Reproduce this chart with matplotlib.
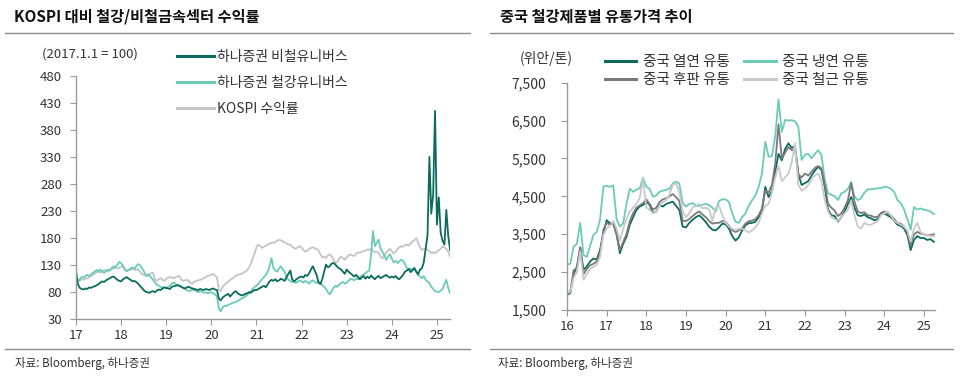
import numpy as np
import matplotlib
matplotlib.use("Agg")
import matplotlib.pyplot as plt
from matplotlib.lines import Line2D
from matplotlib.ticker import FuncFormatter

plt.rcParams['font.family'] = ['Noto Sans CJK KR', 'DejaVu Sans']

# ---------------- Left chart data (semi-monthly, 2017.0 ~ 2025.29) ----------------
kospi = (
    [100, 102, 101, 104, 103, 106, 105, 108, 110, 112, 114, 117, 118, 116, 119, 121, 120, 118, 122, 124, 123, 126, 124, 125]
    + [127, 129, 121, 119, 122, 121, 123, 122, 121, 123, 118, 114, 112, 110, 113, 114, 115, 116, 104, 101, 104, 106, 103, 101]
    + [105, 107, 108, 107, 106, 108, 109, 110, 104, 101, 102, 103, 101, 97, 96, 99, 101, 102, 103, 104, 106, 108, 110, 111]
    + [112, 114, 110, 107, 85, 82, 90, 94, 97, 99, 103, 105, 107, 110, 112, 113, 114, 116, 118, 120, 126, 132, 142, 152]
    + [163, 168, 165, 162, 164, 166, 168, 170, 171, 172, 172, 175, 177, 176, 174, 172, 170, 168, 168, 164, 162, 160, 163, 165]
    + [162, 158, 155, 157, 160, 162, 163, 161, 160, 157, 150, 144, 146, 143, 148, 150, 146, 140, 134, 136, 142, 146, 143, 140]
    + [144, 148, 150, 148, 147, 151, 154, 153, 155, 156, 157, 159, 158, 160, 156, 154, 155, 152, 146, 142, 148, 153, 157, 160]
    + [156, 152, 155, 160, 163, 165, 164, 167, 168, 166, 170, 174, 176, 180, 172, 163, 158, 160, 161, 158, 156, 152, 154, 152]
    + [155, 158, 160, 165, 163, 160, 155, 146]
)
nonferrous = (
    [120, 95, 88, 86, 85, 87, 86, 89, 88, 90, 91, 93, 95, 98, 100, 99, 102, 104, 106, 108, 109, 106, 103, 101]
    + [100, 104, 106, 108, 105, 103, 100, 101, 99, 96, 92, 88, 84, 81, 80, 79, 81, 82, 80, 83, 85, 84, 87, 89]
    + [88, 87, 86, 90, 91, 92, 93, 92, 90, 88, 87, 89, 90, 88, 87, 86, 85, 84, 86, 85, 84, 86, 85, 84]
    + [86, 87, 85, 84, 68, 65, 70, 73, 75, 77, 72, 76, 80, 82, 78, 76, 74, 75, 77, 78, 80, 79, 82, 84]
    + [84, 86, 88, 90, 92, 89, 95, 100, 103, 101, 104, 100, 102, 105, 103, 101, 108, 114, 120, 104, 100, 103, 106, 108]
    + [109, 107, 112, 110, 115, 122, 128, 120, 112, 98, 95, 104, 118, 131, 126, 128, 133, 134, 131, 127, 124, 122, 118, 114]
    + [122, 118, 115, 112, 109, 112, 108, 104, 107, 110, 105, 109, 106, 111, 107, 104, 108, 110, 106, 108, 110, 112, 109, 107]
    + [109, 107, 110, 106, 104, 108, 112, 118, 120, 123, 117, 121, 125, 118, 113, 122, 124, 135, 160, 185, 330, 225, 260, 415]
    + [205, 255, 190, 175, 168, 232, 185, 158]
)
steel = (
    [97, 100, 104, 108, 107, 110, 112, 110, 113, 116, 118, 121, 119, 122, 118, 116, 119, 122, 120, 125, 128, 126, 131, 136]
    + [134, 128, 122, 119, 121, 124, 126, 123, 128, 132, 130, 125, 119, 113, 110, 112, 107, 103, 98, 94, 92, 90, 88, 89]
    + [87, 90, 92, 96, 98, 95, 93, 92, 90, 88, 86, 84, 82, 83, 85, 84, 82, 80, 82, 81, 79, 80, 78, 79]
    + [80, 78, 76, 72, 50, 45, 52, 55, 54, 57, 58, 60, 61, 62, 64, 66, 68, 70, 72, 75, 78, 82, 86, 90]
    + [92, 96, 100, 104, 108, 112, 118, 128, 143, 125, 120, 118, 124, 128, 122, 118, 108, 103, 101, 98, 100, 97, 99, 102]
    + [100, 98, 101, 99, 96, 100, 102, 99, 97, 100, 98, 93, 90, 86, 80, 76, 82, 88, 92, 90, 94, 97, 99, 96]
    + [98, 101, 105, 104, 102, 105, 104, 108, 110, 113, 115, 118, 120, 150, 193, 165, 172, 177, 160, 155, 148, 140, 146, 150]
    + [142, 135, 138, 134, 137, 140, 138, 132, 125, 122, 124, 120, 122, 118, 112, 109, 106, 110, 103, 100, 97, 90, 86, 82]
    + [81, 80, 83, 86, 95, 103, 88, 78]
)
left_labels = ['하나증권 비철유니버스', '하나증권 철강유니버스', 'KOSPI 수익률']
left_yticks = [30, 80, 130, 180, 230, 280, 330, 380, 430, 480]
left_xticks = [17, 18, 19, 20, 21, 22, 23, 24, 25]

# ---------------- Right chart data (monthly, 2016.0 ~ 2025.25) ----------------
hot_rolled = (
    [1900, 1950, 2450, 2650, 3150, 2560, 2650, 2780, 2860, 2830, 3080, 3520]
    + [3870, 3790, 3800, 3520, 3000, 3250, 3430, 3750, 3950, 4140, 4230, 4270]
    + [4350, 4280, 4060, 4100, 4270, 4230, 4300, 4330, 4360, 4250, 4140, 3700]
    + [3680, 3800, 3880, 3950, 4000, 3920, 3820, 3700, 3620, 3600, 3680, 3780]
    + [3760, 3650, 3450, 3330, 3420, 3600, 3740, 3790, 3800, 3830, 3950, 4100]
    + [4750, 4480, 4650, 5150, 5620, 5450, 5750, 5900, 5780, 5820, 5100, 4800]
    + [4850, 4900, 5050, 5180, 5280, 5200, 4750, 4150, 4000, 3980, 3830, 3950]
    + [4100, 4300, 4480, 4200, 4000, 3980, 4020, 3950, 3920, 3870, 3900, 4050]
    + [4050, 4000, 3950, 3850, 3750, 3720, 3650, 3480, 3080, 3350, 3450, 3400]
    + [3400, 3350, 3370, 3300]
)
cold_rolled = (
    [2700, 2720, 3170, 3250, 3800, 2950, 2900, 3200, 3480, 3560, 3880, 4750]
    + [4780, 4750, 4790, 3900, 3700, 3790, 4300, 4700, 4620, 4680, 4710, 4990]
    + [4750, 4700, 4490, 4520, 4620, 4650, 4670, 4700, 4840, 4890, 4840, 4320]
    + [4230, 4300, 4320, 4260, 4240, 4280, 4300, 4270, 4200, 4100, 4380, 4420]
    + [4420, 4350, 4050, 3830, 3800, 3950, 4050, 4250, 4400, 4520, 4750, 5100]
    + [5940, 5550, 5560, 6080, 7060, 6200, 6520, 6500, 6510, 6480, 6340, 5460]
    + [5600, 5620, 5500, 5620, 5720, 5590, 4930, 4580, 4540, 4500, 4400, 4580]
    + [4620, 4700, 4880, 4490, 4400, 4450, 4600, 4680, 4690, 4700, 4710, 4720]
    + [4750, 4740, 4700, 4620, 4400, 4320, 4150, 3900, 3620, 4220, 4150, 4180]
    + [4150, 4130, 4100, 4030]
)
plate = (
    [1920, 1980, 2550, 2600, 3150, 2450, 2580, 2680, 2720, 2780, 3000, 3620]
    + [3800, 3750, 3780, 3480, 3080, 3300, 3500, 3850, 4050, 4200, 4260, 4320]
    + [4420, 4300, 4150, 4200, 4350, 4420, 4450, 4500, 4560, 4480, 4380, 3850]
    + [3850, 3900, 3980, 4050, 4100, 4020, 3950, 3850, 3780, 3800, 3800, 3850]
    + [3820, 3720, 3600, 3560, 3600, 3660, 3780, 3840, 3860, 3900, 4000, 4180]
    + [4650, 4600, 4800, 5350, 6400, 5500, 5650, 5800, 5720, 5760, 5080, 5000]
    + [5100, 5050, 5150, 5250, 5300, 5240, 4820, 4300, 4200, 4120, 3980, 4050]
    + [4200, 4400, 4850, 4350, 4100, 4060, 4080, 4000, 3990, 3950, 3960, 4060]
    + [4100, 4060, 4000, 3900, 3800, 3780, 3700, 3560, 3200, 3500, 3560, 3520]
    + [3500, 3470, 3480, 3500]
)
rebar = (
    [1950, 1980, 2350, 2500, 3050, 2300, 2450, 2580, 2640, 2700, 2900, 3480]
    + [3650, 3720, 3850, 3650, 3330, 3650, 3900, 4100, 4200, 4300, 4450, 4950]
    + [4200, 4150, 4050, 4100, 4250, 4350, 4400, 4550, 4800, 4850, 4600, 4100]
    + [3950, 4050, 4200, 4250, 4300, 4180, 4200, 4150, 3850, 4200, 4250, 4000]
    + [3800, 3700, 3650, 3600, 3650, 3650, 3600, 3550, 3600, 3680, 3800, 4050]
    + [4250, 4300, 4600, 5000, 5300, 4900, 5000, 5100, 5400, 5900, 4800, 4650]
    + [4700, 4800, 4950, 5050, 5100, 4900, 4400, 4100, 3950, 3900, 3850, 3950]
    + [4050, 4150, 4400, 4000, 3700, 3650, 3800, 3750, 3750, 3800, 3850, 4000]
    + [4050, 4100, 4000, 3850, 3800, 3750, 3700, 3600, 3300, 3650, 3800, 3550]
    + [3500, 3480, 3450, 3450]
)
right_labels = ['중국 열연 유통', '중국 냉연 유통', '중국 후판 유통', '중국 철근 유통']
right_yticks = [1500, 2500, 3500, 4500, 5500, 6500, 7500]
right_xticks = [16, 17, 18, 19, 20, 21, 22, 23, 24, 25]

# ---------------- styling ----------------
C_DARK = '#0b6b5f'
C_LIGHT = '#6acbb6'
C_KOSPI = '#c4c4c4'
C_PLATE = '#7a7a7a'
C_REBAR = '#c9c9c9'
TXT = '#333333'
SPINE = '#9a9a9a'

W, H = 960, 381
fig = plt.figure(figsize=(W / 100, H / 100), dpi=100)


def fx(px):
    return px / W


def fy(py):
    return 1 - py / H


def style_axes(ax, ypad):
    for s in ['top', 'right']:
        ax.spines[s].set_visible(False)
    for s in ['left', 'bottom']:
        ax.spines[s].set_color(SPINE)
        ax.spines[s].set_linewidth(1.0)
    ax.tick_params(axis='both', direction='out', length=4, width=0.8, color=SPINE,
                   labelsize=9.5, labelcolor=TXT)
    ax.tick_params(axis='y', pad=ypad)
    ax.tick_params(axis='x', pad=3)


# ---------------- Left chart ----------------
ax1 = fig.add_axes([fx(76), fy(319.3), fx(450) - fx(76), fy(75.7) - fy(319.3)])
l_k, = ax1.plot(17 + np.arange(len(kospi)) / 24, kospi, color=C_KOSPI, lw=1.3)
l_s, = ax1.plot(17 + np.arange(len(steel)) / 24, steel, color=C_LIGHT, lw=1.3)
l_n, = ax1.plot(17 + np.arange(len(nonferrous)) / 24, nonferrous, color=C_DARK, lw=1.3)
ax1.set_xlim(17, 25.29)
ax1.set_ylim(30, 480)
ax1.set_yticks(left_yticks)
ax1.set_xticks(left_xticks)
ax1.set_xticklabels([str(v) for v in left_xticks])
style_axes(ax1, 6)
leg1 = ax1.legend([l_n, l_s, l_k], left_labels, loc='upper left',
                  bbox_to_anchor=(fx(177), fy(50)), bbox_transform=fig.transFigure,
                  frameon=False, fontsize=10, handlelength=2.65, handletextpad=0.25,
                  labelspacing=0.86, borderpad=0, borderaxespad=0)
for t in leg1.get_texts():
    t.set_color(TXT)
for ln in leg1.get_lines():
    ln.set_linewidth(2.2)

# ---------------- Right chart ----------------
ax2 = fig.add_axes([fx(567), fy(310), fx(935) - fx(567), fy(82.7) - fy(310)])
h_h, = ax2.plot(16 + np.arange(len(hot_rolled)) / 12, hot_rolled, color=C_DARK, lw=1.3)
h_c, = ax2.plot(16 + np.arange(len(cold_rolled)) / 12, cold_rolled, color=C_LIGHT, lw=1.3)
h_p, = ax2.plot(16 + np.arange(len(plate)) / 12, plate, color=C_PLATE, lw=1.3)
h_r, = ax2.plot(16 + np.arange(len(rebar)) / 12, rebar, color=C_REBAR, lw=1.3)
ax2.set_xlim(16, 25.28)
ax2.set_ylim(1500, 7500)
ax2.set_yticks(right_yticks)
ax2.yaxis.set_major_formatter(FuncFormatter(lambda v, p: f'{int(v):,}'))
ax2.set_xticks(right_xticks)
ax2.set_xticklabels([str(v) for v in right_xticks])
style_axes(ax2, 11)
ax2.tick_params(axis='y', labelsize=10)
leg2 = ax2.legend([h_h, h_p, h_c, h_r],
                  [right_labels[0], right_labels[2], right_labels[1], right_labels[3]],
                  loc='upper left', ncols=2,
                  bbox_to_anchor=(fx(605), fy(55)), bbox_transform=fig.transFigure,
                  frameon=False, fontsize=10.5, handlelength=2.15, handletextpad=0.45,
                  labelspacing=0.28, columnspacing=1.0, borderpad=0, borderaxespad=0)
for t in leg2.get_texts():
    t.set_color(TXT)
for ln in leg2.get_lines():
    ln.set_linewidth(2.2)

# ---------------- Titles, rules, notes ----------------
fig.text(fx(14), fy(17), 'KOSPI 대비 철강/비철금속섹터 수익률', fontsize=11,
         fontweight='bold', color='#111111', va='center', ha='left')
fig.text(fx(500), fy(17), '중국 철강제품별 유통가격 추이', fontsize=11,
         fontweight='bold', color='#111111', va='center', ha='left')
for x0, x1 in [(5, 470), (490, 953)]:
    fig.add_artist(Line2D([fx(x0), fx(x1)], [fy(33), fy(33)], color='#8c8c8c', lw=1.0))
    fig.add_artist(Line2D([fx(x0), fx(x1)], [fy(349), fy(349)], color='#8c8c8c', lw=1.0))

fig.text(fx(42), fy(54), '(2017.1.1 = 100)', fontsize=9.5, color=TXT, va='center', ha='left')
fig.text(fx(520), fy(58), '(위안/톤)', fontsize=10, color=TXT, va='center', ha='left')

fig.text(fx(15), fy(363), '자료: Bloomberg, 하나증권', fontsize=8.3, color=TXT, va='center', ha='left')
fig.text(fx(498), fy(363), '자료: Bloomberg, 하나증권', fontsize=8.3, color=TXT, va='center', ha='left')

fig.savefig('out.png', dpi=100)
